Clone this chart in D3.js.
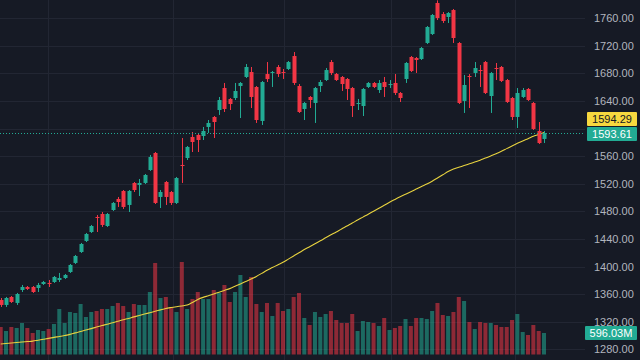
<!DOCTYPE html>
<html><head><meta charset="utf-8">
<script src="https://cdn.jsdelivr.net/npm/d3@7"></script>
<style>html,body{margin:0;padding:0;background:#161a25;overflow:hidden}svg{display:block}</style>
</head><body><svg id="c" width="640" height="360"></svg>
<script>
const opens = [1351.5,1344.3,1355.9,1347.2,1366.0,1370.4,1370.4,1368.9,1374.7,1376.2,1377.6,1380.5,1383.4,1392.1,1405.2,1421.1,1437.1,1450.1,1471.9,1476.2,1458.8,1482.0,1498.0,1509.6,1489.3,1521.2,1518.3,1521.2,1540.0,1564.7,1500.9,1522.6,1508.1,1492.2,1547.3,1557.4,1587.9,1590.8,1589.3,1602.4,1616.9,1627.0,1658.9,1643.0,1644.4,1661.8,1674.9,1682.1,1660.4,1611.1,1679.2,1680.7,1689.4,1682.1,1686.5,1705.3,1661.8,1628.5,1645.9,1637.2,1661.8,1670.5,1696.6,1679.2,1674.9,1672.0,1658.9,1635.7,1632.8,1660.4,1666.2,1656.0,1667.6,1663.3,1666.2,1651.7,1672.0,1703.9,1702.4,1701.0,1724.2,1737.2,1782.2,1766.2,1761.9,1772.0,1724.2,1640.1,1676.3,1680.7,1685.0,1696.6,1647.3,1687.9,1689.4,1670.5,1644.4,1616.9,1645.9,1657.5,1637.2,1596.6,1585.0];
const highs = [1354.4,1355.9,1357.3,1361.7,1373.3,1371.8,1371.8,1376.2,1379.1,1380.5,1386.3,1390.7,1389.2,1403.7,1416.8,1434.2,1448.7,1460.3,1474.8,1479.1,1477.7,1493.6,1500.9,1511.0,1511.0,1522.6,1527.0,1534.2,1561.8,1566.1,1511.0,1524.1,1509.6,1529.9,1586.4,1574.8,1595.1,1593.7,1602.4,1612.5,1618.3,1645.9,1666.2,1644.4,1666.2,1667.6,1693.7,1689.4,1661.8,1669.1,1696.6,1683.6,1692.3,1686.5,1698.1,1711.1,1664.7,1638.6,1647.3,1660.4,1670.5,1687.9,1699.5,1680.7,1676.3,1673.4,1660.4,1643.0,1658.9,1667.6,1667.6,1670.5,1674.9,1670.5,1679.2,1653.1,1696.6,1705.3,1703.9,1718.4,1748.8,1766.2,1786.0,1769.1,1769.1,1773.5,1725.6,1677.8,1679.2,1696.6,1692.3,1698.1,1682.1,1695.2,1690.8,1672.0,1645.9,1658.9,1658.9,1658.9,1638.6,1609.6,1596.6];
const lows = [1341.4,1341.4,1347.2,1344.3,1363.1,1366.0,1361.7,1363.1,1373.3,1370.4,1376.2,1377.6,1382.0,1390.7,1403.7,1419.7,1435.6,1448.7,1450.1,1457.4,1457.4,1480.6,1486.4,1483.5,1479.1,1508.1,1502.3,1519.7,1538.6,1490.7,1484.9,1489.3,1489.3,1490.7,1521.2,1554.5,1566.1,1566.1,1583.5,1593.7,1586.4,1619.8,1624.1,1627.0,1641.5,1615.4,1673.4,1629.9,1608.2,1605.3,1667.6,1660.4,1674.9,1672.0,1685.0,1663.3,1622.7,1612.5,1629.9,1608.2,1653.1,1669.1,1677.8,1669.1,1654.6,1641.5,1616.9,1627.0,1618.3,1658.9,1658.9,1651.7,1645.9,1658.9,1648.8,1638.6,1666.2,1682.1,1680.7,1699.5,1722.7,1735.8,1757.5,1753.2,1753.2,1724.2,1635.7,1622.7,1629.9,1674.9,1660.4,1650.2,1622.7,1670.5,1667.6,1637.2,1612.5,1600.9,1644.4,1640.1,1598.0,1577.7,1579.1];
const closes = [1344.3,1354.4,1348.6,1360.2,1370.4,1367.5,1363.1,1373.3,1377.6,1374.7,1384.9,1383.4,1387.8,1402.3,1415.3,1432.7,1447.2,1458.8,1470.4,1460.3,1476.2,1492.2,1493.6,1486.4,1509.6,1511.0,1521.2,1532.8,1558.9,1492.2,1508.1,1500.9,1492.2,1528.4,1545.8,1573.4,1580.6,1583.5,1596.6,1608.2,1609.6,1641.5,1628.5,1635.7,1654.6,1666.2,1689.4,1645.9,1612.5,1667.6,1671.9,1682.1,1679.2,1680.7,1696.6,1666.2,1624.1,1637.2,1641.5,1658.9,1667.6,1685.0,1680.7,1670.5,1664.7,1657.5,1632.8,1637.2,1657.5,1666.2,1660.4,1666.2,1660.4,1664.7,1651.7,1644.4,1695.2,1683.6,1699.5,1716.9,1747.4,1764.8,1760.4,1756.1,1767.7,1731.4,1637.2,1663.3,1674.9,1687.9,1683.6,1651.7,1680.7,1686.5,1669.1,1638.6,1616.9,1651.7,1656.0,1641.5,1599.5,1579.1,1593.61];
const volumes = [762,651,762,734,873,734,596,679,651,706,845,1260,873,1177,1150,1399,1039,1177,1205,1260,1260,1343,1427,1343,1177,1399,1371,1371,1731,2535,1565,1593,1316,1177,2562,1260,1537,1731,1537,1537,1787,1704,1925,1454,1731,2202,1593,2147,1399,1177,1427,1066,1427,1205,1260,1593,1704,1011,817,1177,1039,1122,1205,956,873,873,1122,651,928,900,873,789,1011,679,734,789,983,789,1011,1011,983,1205,1427,1094,1066,1177,1593,1482,900,706,900,873,873,817,762,762,956,1122,623,540,817,651,596.03];
const maValues = [1287.7,1288.4,1289.2,1289.9,1290.5,1291.2,1291.9,1293.2,1294.5,1295.8,1297.3,1298.6,1300.0,1301.6,1303.8,1305.8,1308.0,1310.0,1312.2,1314.4,1316.4,1318.6,1320.6,1322.8,1324.8,1327.0,1329.0,1331.1,1333.1,1335.1,1337.2,1339.2,1340.6,1341.8,1342.9,1344.1,1348.0,1352.2,1355.3,1357.7,1360.3,1362.8,1365.4,1368.0,1371.4,1374.8,1378.3,1381.8,1385.7,1390.1,1394.6,1398.5,1402.4,1406.2,1410.8,1415.4,1419.9,1424.6,1428.8,1433.1,1437.3,1441.7,1446.0,1450.2,1454.6,1458.8,1463.2,1467.4,1471.7,1475.9,1480.3,1484.6,1488.8,1493.2,1497.2,1501.1,1504.8,1508.5,1512.3,1516.1,1519.7,1523.8,1528.4,1533.0,1537.7,1541.3,1543.9,1546.4,1549.0,1551.6,1554.2,1557.3,1560.4,1563.6,1567.1,1571.0,1574.9,1578.7,1582.2,1585.5,1589.0,1591.3,1594.29];
const priceTicks = [1280,1320,1360,1400,1440,1480,1520,1560,1600,1640,1680,1720,1760];
const hiddenTickLabels = [1600];
const lastPriceLabel = "1593.61";
const maLabel = "1594.29";
const volumeLabel = "596.03M";

const W = 640, H = 360, plotRight = 585;
const UP = "#22ab94", DOWN = "#f23645";
const svg = d3.select("#c");
svg.append("rect").attr("width", W).attr("height", H).attr("fill", "#161a25");

const idx = d3.range(opens.length);
const x = d3.scaleLinear().domain([0, opens.length - 1]).range([0.7, 544]);
const y = d3.scaleLinear().domain([1280, 1760]).range([349.3, 18.3]);
const yVol = d3.scaleLinear().domain([0, d3.max(volumes)]).range([354.5, 262]);

const clip = svg.append("clipPath").attr("id", "pc").append("rect").attr("x", 0).attr("y", 0).attr("width", plotRight).attr("height", H);
const grid = svg.append("g").attr("clip-path", "url(#pc)");
// horizontal grid
grid.selectAll("line.h").data(priceTicks).join("line")
  .attr("x1", 0).attr("x2", plotRight)
  .attr("y1", d => Math.round(y(d)) + 0.5).attr("y2", d => Math.round(y(d)) + 0.5)
  .attr("stroke", "#222633").attr("stroke-width", 1);
// vertical grid (period separators) at bar indices
const vGridIdx = [8.8, 32.3, 53.1, 73.2, 96.6];
grid.selectAll("line.v").data(vGridIdx).join("line")
  .attr("y1", 0).attr("y2", H)
  .attr("x1", d => Math.round(x(d)) + 0.5).attr("x2", d => Math.round(x(d)) + 0.5)
  .attr("stroke", "#222633").attr("stroke-width", 1);

const plot = svg.append("g").attr("clip-path", "url(#pc)");
const bw = 4;
// volume
plot.selectAll("rect.vol").data(idx).join("rect")
  .attr("x", i => x(i) - bw / 2).attr("width", bw)
  .attr("y", i => yVol(volumes[i])).attr("height", i => yVol(0) - yVol(volumes[i]))
  .attr("fill", i => closes[i] >= opens[i] ? UP : DOWN).attr("fill-opacity", 0.55);

// MA line
plot.append("path").datum(idx)
  .attr("d", d3.line().x(i => x(i)).y(i => y(maValues[i])).curve(d3.curveMonotoneX))
  .attr("fill", "none").attr("stroke", "#e8d33f").attr("stroke-width", 1.1);

// candles
const cg = plot.selectAll("g.c").data(idx).join("g");
cg.append("line")
  .attr("x1", i => Math.round(x(i)) + 0.5).attr("x2", i => Math.round(x(i)) + 0.5)
  .attr("y1", i => y(highs[i])).attr("y2", i => y(lows[i]))
  .attr("stroke", i => closes[i] >= opens[i] ? UP : DOWN).attr("stroke-width", 1);
cg.append("rect")
  .attr("x", i => Math.round(x(i)) + 0.5 - bw / 2).attr("width", bw)
  .attr("y", i => y(Math.max(opens[i], closes[i])))
  .attr("height", i => Math.max(1, Math.abs(y(opens[i]) - y(closes[i]))))
  .attr("fill", i => closes[i] >= opens[i] ? UP : DOWN);

// last price dotted line
const lastClose = closes[closes.length - 1];
plot.append("line").attr("x1", 0).attr("x2", plotRight)
  .attr("y1", Math.round(y(lastClose)) + 0.5).attr("y2", Math.round(y(lastClose)) + 0.5)
  .attr("stroke", UP).attr("stroke-width", 1).attr("stroke-dasharray", "1,2");

// price axis
const axis = d3.axisRight(y).tickValues(priceTicks.filter(t => !hiddenTickLabels.includes(t)))
  .tickFormat(d3.format(".2f")).tickSize(0).tickPadding(0);
const ag = svg.append("g").attr("transform", "translate(594,0)").call(axis);
ag.select(".domain").remove();
ag.selectAll("text").attr("fill", "#b2b5be").attr("font-family", "'Liberation Sans', Arial, sans-serif").attr("font-size", 11);

function badge(txt, cy, fill, color, x0, w) {
  svg.append("rect").attr("x", x0).attr("y", cy - 7).attr("width", w).attr("height", 14).attr("rx", 1).attr("fill", fill);
  svg.append("text").attr("x", x0 + w / 2).attr("y", cy).attr("dy", "0.35em").attr("text-anchor", "middle")
    .attr("fill", color).attr("font-family", "'Liberation Sans', Arial, sans-serif").attr("font-size", 11).text(txt);
}
badge(maLabel, 119, "#f7d83f", "#131722", 587, 50);
badge(lastPriceLabel, 134, UP, "#ffffff", 587, 50);
badge(volumeLabel, yVol(volumes[volumes.length - 1]), UP, "#ffffff", 585, 52);
</script></body></html>
